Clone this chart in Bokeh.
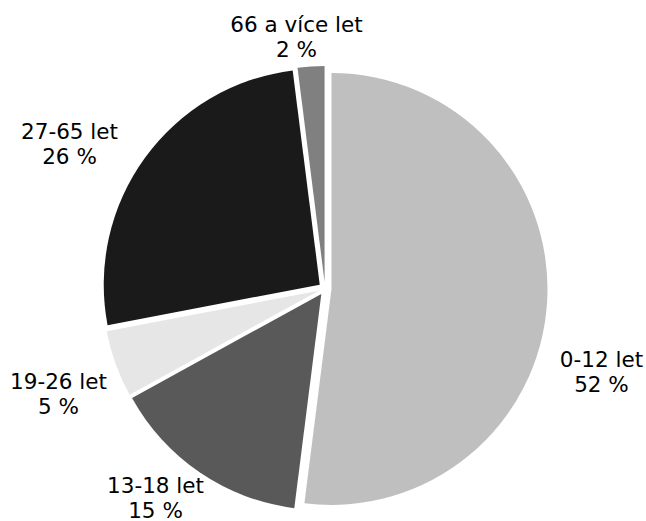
import numpy as np
from bokeh.plotting import figure
from bokeh.models import ColumnDataSource, Range1d
from bokeh.core.properties import value
from bokeh.embed import file_html
from bokeh.resources import INLINE

# ---- data ----
categories = ["0-12 let", "13-18 let", "19-26 let", "27-65 let", "66 a více let"]
shares = [52, 15, 5, 26, 2]

# ---- styles / layout ----
colors = ["#bfbfbf", "#595959", "#e6e6e6", "#1a1a1a", "#808080"]
label_pos = [(601, 371), (155, 497), (58, 393), (69, 143), (296, 36)]  # screenshot px (block centres)

W, H = 646, 521
cx, cy_page = 324.5, 288.0
R = 216.0
EXPLODE = 6.5

def to_y(page_y):
    return H - page_y

vals = np.array(shares, dtype=float)
frac = vals / vals.sum()
cum = np.cumsum(frac)
th_start = 2 * np.pi * (cum - frac)   # clockwise from 12 o'clock
th_end = 2 * np.pi * cum
mid = (th_start + th_end) / 2

cy = to_y(cy_page)
src = ColumnDataSource(dict(
    x=cx + EXPLODE * np.sin(mid),
    y=cy + EXPLODE * np.cos(mid),
    start=np.pi / 2 - th_end,
    end=np.pi / 2 - th_start,
    color=colors,
    cat=categories,
))

p = figure(width=W, height=H, output_backend="svg", toolbar_location=None,
           x_range=Range1d(0, W), y_range=Range1d(0, H),
           min_border=0, outline_line_color=None, background_fill_color="white")
p.axis.visible = False
p.grid.visible = False

p.wedge(x="x", y="y", radius=R, start_angle="start", end_angle="end",
        direction="anticlock", fill_color="color", line_color=None, source=src)

lab = ColumnDataSource(dict(
    x=[pt[0] for pt in label_pos],
    y=[to_y(pt[1]) for pt in label_pos],
    text=[f"{c}\n{s} %" for c, s in zip(categories, shares)],
))
p.text(x="x", y="y", text="text", source=lab, text_align="center",
       text_baseline="middle", text_font=value("DejaVu Sans"),
       text_font_size="21.5px", text_line_height=1.0, text_color="#000000")

open("out.html", "w").write(file_html(p, INLINE))
